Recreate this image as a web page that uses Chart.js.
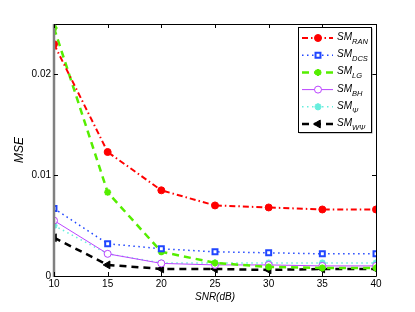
<!DOCTYPE html>
<html><head><meta charset="utf-8">
<script src="https://cdn.jsdelivr.net/npm/chart.js@4/dist/chart.umd.min.js"></script>
<style>html,body{margin:0;padding:0;background:#fff}canvas{display:block}</style>
</head><body>
<canvas id="c" width="415" height="312"></canvas>
<script>
const snr = [10, 15, 20, 25, 30, 35, 40];
const smRAN = [0.0230, 0.0123, 0.0085, 0.0070, 0.0068, 0.0066, 0.0066];
const smDCS = [0.0067, 0.0032, 0.0027, 0.0024, 0.0023, 0.0022, 0.0022];
const smLG  = [0.0246, 0.0083, 0.0024, 0.0013, 0.0009, 0.0008, 0.0008];
const smBH  = [0.0055, 0.0022, 0.00125, 0.0011, 0.0011, 0.0010, 0.0010];
const smPsi = [0.0050, 0.0022, 0.0013, 0.0013, 0.0013, 0.0013, 0.0013];
const smWPsi= [0.0038, 0.0011, 0.0007, 0.0007, 0.0006, 0.0007, 0.0007];
const xTicks = [10, 15, 20, 25, 30, 35, 40];
const yTicks = [0, 0.01, 0.02];
const yTickLabels = ['0', '0.01', '0.02'];
const legendMain = 'SM';
const legendSubs = ['RAN', 'DCS', 'LG', 'BH', 'Ψ', 'WΨ'];

const FONT = '"Liberation Sans", Arial, sans-serif';
const pts = arr => arr.map((v, i) => ({x: snr[i], y: v}));

const styles = [
  {color:'#ff0000', dash:[6,3,1.5,3], width:2, pointStyle:'circle', radius:3.5, fill:'#ff0000', pbw:1},
  {color:'#2046ff', dash:[1.5,3.5], width:1.5, pointStyle:'rect', radius:3.5, fill:'#ffffff', pbw:2},
  {color:'#55ee00', dash:[7,5], width:2.5, pointStyle:'star', radius:3.5, fill:'#55ee00', pbw:2},
  {color:'#bb44ff', dash:[], width:1, pointStyle:'circle', radius:3.5, fill:'#ffffff', pbw:1},
  {color:'#66eedd', dash:[1.5,3.5], width:1.5, pointStyle:'star', radius:3.5, fill:'#66eedd', pbw:2},
  {color:'#000000', dash:[7,5], width:2.5, pointStyle:'triangle', radius:4.5, fill:'#000000', pbw:1, rot:-90},
];
const series = [smRAN, smDCS, smLG, smBH, smPsi, smWPsi];

const datasets = series.map((s, i) => {
  const st = styles[i];
  return {
    label: legendMain + legendSubs[i],
    data: pts(s),
    borderColor: st.color,
    backgroundColor: st.fill,
    borderWidth: st.width,
    borderDash: st.dash,
    pointStyle: st.pointStyle,
    pointRadius: st.radius,
    pointBorderColor: st.color,
    pointBackgroundColor: st.fill,
    pointBorderWidth: st.pbw,
    pointRotation: st.rot || 0,
    tension: 0,
    fill: false
  };
});

const frame = {
  id: 'frame',
  afterDraw(chart) {
    const {ctx, chartArea: a, scales} = chart;
    ctx.save();
    ctx.strokeStyle = '#000';
    ctx.lineWidth = 1;
    ctx.setLineDash([]);
    ctx.beginPath();
    ctx.moveTo(a.left, a.top + 0.5); ctx.lineTo(a.right + 0.5, a.top + 0.5);
    ctx.lineTo(a.right + 0.5, a.bottom + 0.5); ctx.lineTo(a.left, a.bottom + 0.5);
    ctx.stroke();
    ctx.strokeStyle = '#808080';
    ctx.lineWidth = 2.5;
    ctx.beginPath();
    ctx.moveTo(a.left, a.top); ctx.lineTo(a.left, a.bottom + 1);
    ctx.stroke();
    ctx.strokeStyle = '#000';
    ctx.lineWidth = 1;
    const tl = 4;
    xTicks.forEach(v => {
      const x = Math.round(scales.x.getPixelForValue(v)) + 0.5;
      ctx.beginPath();
      ctx.moveTo(x, a.bottom); ctx.lineTo(x, a.bottom - tl);
      ctx.moveTo(x, a.top); ctx.lineTo(x, a.top + tl);
      ctx.stroke();
    });
    yTicks.forEach(v => {
      const y = Math.round(scales.y.getPixelForValue(v)) + 0.5;
      ctx.beginPath();
      ctx.moveTo(a.left, y); ctx.lineTo(a.left + tl, y);
      ctx.moveTo(a.right, y); ctx.lineTo(a.right - tl, y);
      ctx.stroke();
    });
    const lx = 298, ly = 27, lw = 73, lh = 105;
    ctx.fillStyle = '#9a9a9a';
    ctx.fillRect(lx + 1.5, ly + 1.5, lw, lh);
    ctx.fillStyle = '#fff';
    ctx.fillRect(lx, ly, lw, lh);
    ctx.strokeStyle = '#000';
    ctx.lineWidth = 1;
    ctx.strokeRect(lx + 0.5, ly + 0.5, lw, lh);
    legendSubs.forEach((sub, i) => {
      const st = styles[i];
      const y = ly + 11 + i * 17.2;
      ctx.strokeStyle = st.color;
      ctx.lineWidth = st.width;
      ctx.setLineDash(st.dash);
      ctx.beginPath();
      ctx.moveTo(lx + 4, y); ctx.lineTo(lx + 35, y);
      ctx.stroke();
      ctx.setLineDash([]);
      ctx.fillStyle = st.fill;
      ctx.strokeStyle = st.color;
      ctx.lineWidth = st.pbw;
      Chart.helpers.drawPoint(ctx, {pointStyle: st.pointStyle, radius: st.radius, rotation: st.rot || 0, borderWidth: st.pbw}, lx + 20, y);
      ctx.fillStyle = '#000';
      ctx.font = 'italic 10px ' + FONT;
      ctx.textBaseline = 'alphabetic';
      ctx.textAlign = 'left';
      ctx.fillText(legendMain, lx + 39, y + 2);
      const w = ctx.measureText(legendMain).width;
      ctx.font = 'italic 7.5px ' + FONT;
      ctx.fillText(sub, lx + 39 + w, y + 6);
    });
    ctx.restore();
  }
};

new Chart(document.getElementById('c'), {
  type: 'line',
  data: {datasets},
  options: {
    responsive: false,
    animation: false,
    devicePixelRatio: 1,
    layout: {padding: {top: 24, right: 39, left: 12, bottom: 9}},
    plugins: {legend: {display: false}, tooltip: {enabled: false}},
    scales: {
      x: {
        type: 'linear', min: 10, max: 40,
        afterBuildTicks: s => { s.ticks = xTicks.map(v => ({value: v})); },
        afterFit: s => { s.height = 27; },
        grid: {display: false, drawTicks: false},
        border: {display: false},
        ticks: {color: '#000', font: {family: FONT, size: 10}, padding: 2, maxRotation: 0,
                callback: v => String(v)},
        title: {display: true, text: 'SNR(dB)', color: '#000', padding: {top: 0, bottom: 0},
                font: {family: FONT, size: 10, style: 'italic'}}
      },
      y: {
        type: 'linear', min: 0, max: 0.025,
        afterBuildTicks: s => { s.ticks = yTicks.map(v => ({value: v})); },
        afterFit: s => { s.width = 42; },
        grid: {display: false, drawTicks: false},
        border: {display: false},
        ticks: {color: '#000', font: {family: FONT, size: 10}, padding: 3,
                callback: (v, i) => yTickLabels[i]},
        title: {display: true, text: 'MSE', color: '#000', padding: {top: 0, bottom: 0},
                font: {family: FONT, size: 12, style: 'italic'}}
      }
    }
  },
  plugins: [frame]
});
</script>
</body></html>
